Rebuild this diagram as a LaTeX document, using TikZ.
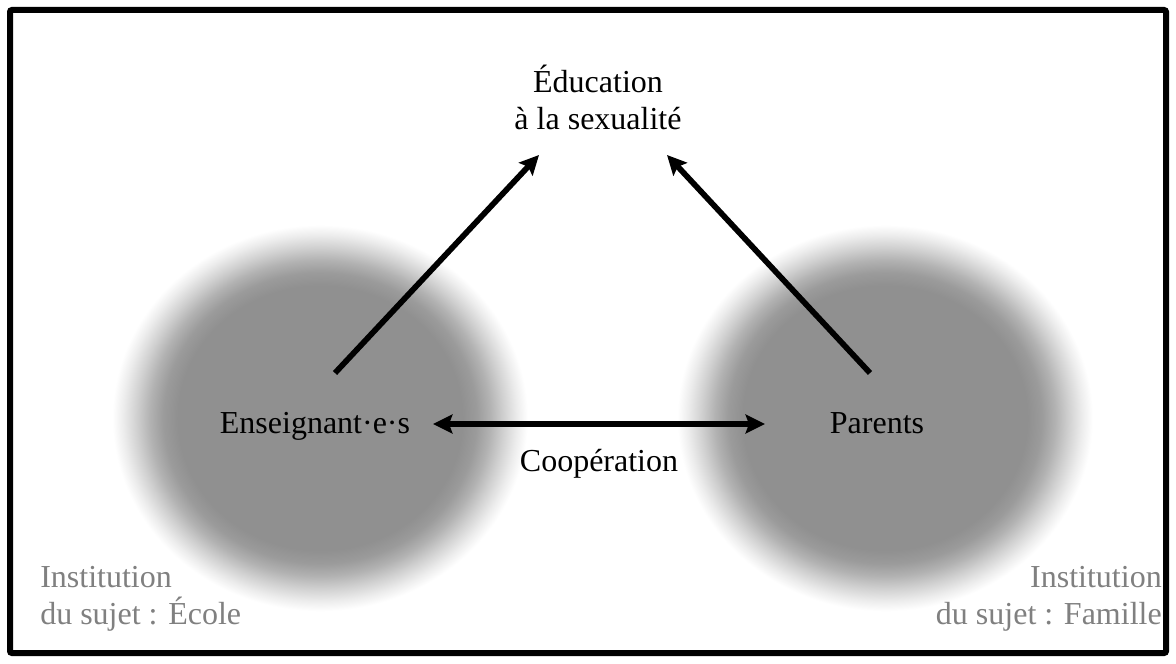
\documentclass[tikz,border=0pt]{standalone}
\usepackage{fontspec}
\setmainfont{Liberation Serif}
\usetikzlibrary{arrows.meta}
\definecolor{blobgray}{RGB}{144,144,144}
\definecolor{bga}{RGB}{155,155,155}
\definecolor{bgb}{RGB}{178,178,178}
\definecolor{bgc}{RGB}{208,208,208}
\definecolor{bgd}{RGB}{236,236,236}
\definecolor{labgray}{RGB}{128,128,128}
\pgfdeclareradialshading{blob}{\pgfpoint{0bp}{0bp}}{%
color(0bp)=(blobgray);
color(17bp)=(blobgray);
color(18.7bp)=(bga);
color(20.3bp)=(bgb);
color(21.9bp)=(bgc);
color(23.5bp)=(bgd);
color(24.8bp)=(white);
color(50bp)=(white)}
\begin{document}
\begin{tikzpicture}[x=0.75pt,y=-0.75pt,
  txt/.style={font=\fontsize{24}{29}\selectfont, inner sep=0pt, align=center},
  inst/.style={font=\fontsize{24}{28}\selectfont, inner sep=0pt, text=labgray},
  tip/.style={Stealth[length=14.5pt,width=14pt,inset=2.5pt]},
  arr/.style={line width=4.3pt, -{Stealth[length=14.5pt,width=14pt,inset=2.5pt]}},
  darr/.style={line width=4.3pt, {Stealth[length=14.5pt,width=14pt,inset=2.5pt]}-{Stealth[length=14.5pt,width=14pt,inset=2.5pt]}}]
\useasboundingbox (0,0) rectangle (1176,663);
\fill[white] (0,0) rectangle (1176,663);
% blurred discs
\shade[shading=blob] (320,418) ellipse [x radius=157pt, y radius=146pt];
\shade[shading=blob] (885,418) ellipse [x radius=157pt, y radius=146pt];
% frame
\draw[line width=4.5pt, rounded corners=1.5pt] (10,10) rectangle (1166,653);
% texts
\node[txt] (edu) at (598,97) {Éducation\\[-0.05em]à la sexualité};
\node[txt, anchor=base] (ens) at (315,433) {Enseignant·e·s};
\node[txt, anchor=base] (par) at (877,433) {Parents};
\node[txt, anchor=base] (coop) at (599,471) {Coopération};
\node[inst, anchor=north west, align=left] (ecole) at (40,566) {Institution\\du sujet : École};
\node[inst, anchor=north east, align=right] (fam) at (1162,566) {Institution\\du sujet : Famille};
% connector ends
\coordinate (ensR) at (433,424);
\coordinate (parL) at (765,424);
\coordinate (ensT) at (335,373);
\coordinate (eduL) at (539,155);
\coordinate (parT) at (870,373);
\coordinate (eduR) at (667,155);
\draw[darr] (ensR) -- (parL);
\draw[arr] (ensT) -- (eduL);
\draw[arr] (parT) -- (eduR);
\end{tikzpicture}
\end{document}
